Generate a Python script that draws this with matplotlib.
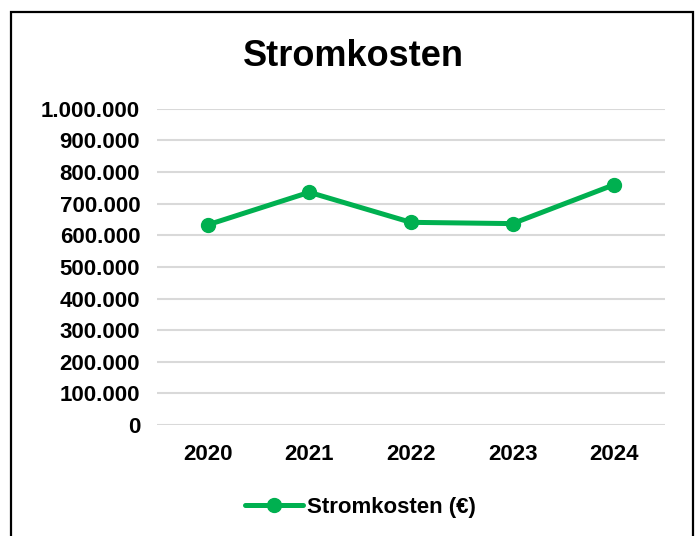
import matplotlib
matplotlib.use('Agg')
import matplotlib.pyplot as plt
from matplotlib.patches import Rectangle
from matplotlib.ticker import FuncFormatter

years = ['2020', '2021', '2022', '2023', '2024']
kosten = [633000, 736000, 641000, 637000, 760000]
y_ticks = [0, 100000, 200000, 300000, 400000, 500000,
           600000, 700000, 800000, 900000, 1000000]

GREEN = '#00B050'
plt.rcParams['font.family'] = ['Liberation Sans', 'DejaVu Sans']
plt.rcParams['font.weight'] = 'bold'

fig = plt.figure(figsize=(7, 5.36), dpi=100)
ax = fig.add_axes([0.224, 0.207, 0.726, 0.590])

x = list(range(len(years)))
ax.plot(x, kosten, color=GREEN, linewidth=3.6, marker='o', markersize=10,
        label='Stromkosten (€)', zorder=3, solid_capstyle='round')

ax.set_xlim(-0.5, len(years) - 0.5)
ax.set_ylim(0, 1000000)
ax.set_yticks(y_ticks)
ax.yaxis.set_major_formatter(
    FuncFormatter(lambda v, p: f'{int(v):,}'.replace(',', '.')))
ax.set_xticks(x)
ax.set_xticklabels(years)

ax.tick_params(axis='y', length=0, pad=12, labelsize=16)
ax.tick_params(axis='x', length=0, pad=14, labelsize=16)
for s in ax.spines.values():
    s.set_visible(False)
ax.yaxis.grid(True, color='#D9D9D9', linewidth=1.5)
ax.set_axisbelow(True)

fig.text(0.505, 0.895, 'Stromkosten', ha='center', va='center',
         fontsize=26, fontweight='bold')

leg = fig.legend(loc='center', bbox_to_anchor=(0.515, 0.054), frameon=False,
                 fontsize=16, handlelength=2.6, handletextpad=0.2)

# outer chart border (bottom edge outside the picture)
fig.patches.append(Rectangle((0.016, -0.05), 0.974, 1.028, transform=fig.transFigure,
                             fill=False, edgecolor='black', linewidth=1.6))

fig.savefig('out.png', dpi=100, facecolor='white')
